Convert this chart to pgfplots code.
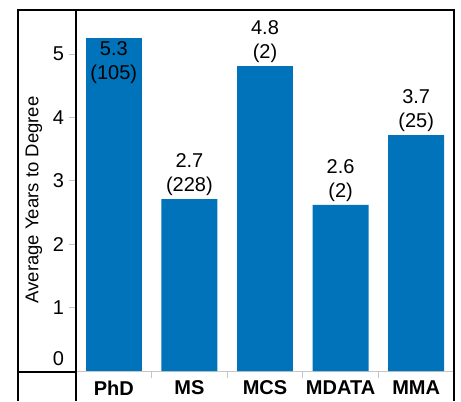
\documentclass[border=0pt]{standalone}
\usepackage{fontspec}
\setmainfont{Liberation Sans}
\usepackage{pgfplots}
\pgfplotsset{compat=1.18}
\definecolor{barblue}{RGB}{0,115,186}
\begin{document}
\begin{tikzpicture}[x=1bp,y=1bp]
\useasboundingbox (0,0) rectangle (461,401);
\begin{axis}[
  at={(76bp,30bp)}, anchor=south west,
  width=378bp, height=360bp, scale only axis,
  xmin=-0.5, xmax=4.5, ymin=0, ymax=5.68,
  axis x line*=bottom, axis y line*=left,
  x axis line style={draw=gray!45, line width=0.8bp, -},
  y axis line style={draw=none},
  ytick={1,2,3,4,5}, extra y ticks={0},
  extra y tick style={yticklabel style={yshift=12bp}},
  xtick={0,1,2,3,4}, xticklabels={PhD,MS,MCS,MDATA,MMA},
  extra x ticks={0.5,1.5,2.5,3.5}, extra x tick labels={},
  tick align=outside, major tick length=7bp,
  tick style={draw=gray!45, line width=0.8bp},
  x tick style={draw=none},
  extra x tick style={x tick style={draw=gray!45, line width=0.8bp}},
  /pgf/number format/assume math mode=true,
  yticklabel style={font=\fontsize{20bp}{22bp}\selectfont, xshift=-1.5bp},
  xticklabel style={font=\fontsize{20bp}{22bp}\selectfont\bfseries, yshift=1bp},
  ybar, bar width=0.74,
  point meta=explicit symbolic, nodes near coords,
  nodes near coords style={font=\fontsize{20bp}{24bp}\selectfont, align=center, anchor=south, inner sep=3bp},
]
\addplot[fill=barblue, draw=none, bar shift=0pt] coordinates {(1,2.71)[2.7\\(228)] (2,4.81)[4.8\\(2)] (3,2.62)[2.6\\(2)] (4,3.72)[3.7\\(25)]};
\addplot[fill=barblue, draw=none, bar shift=0pt, nodes near coords style={anchor=north}] coordinates {(0,5.25)[5.3\\(105)]};
\end{axis}
\draw[line width=1.3bp] (18,0) -- (18,391) -- (454,391) -- (454,0);
\draw[line width=1.3bp] (76,0) -- (76,391);
\draw[line width=1.3bp] (18,29) -- (76,29);
\node[rotate=90, font=\fontsize{18.5bp}{20bp}\selectfont] at (34,201) {Average Years to Degree};
\end{tikzpicture}
\end{document}
